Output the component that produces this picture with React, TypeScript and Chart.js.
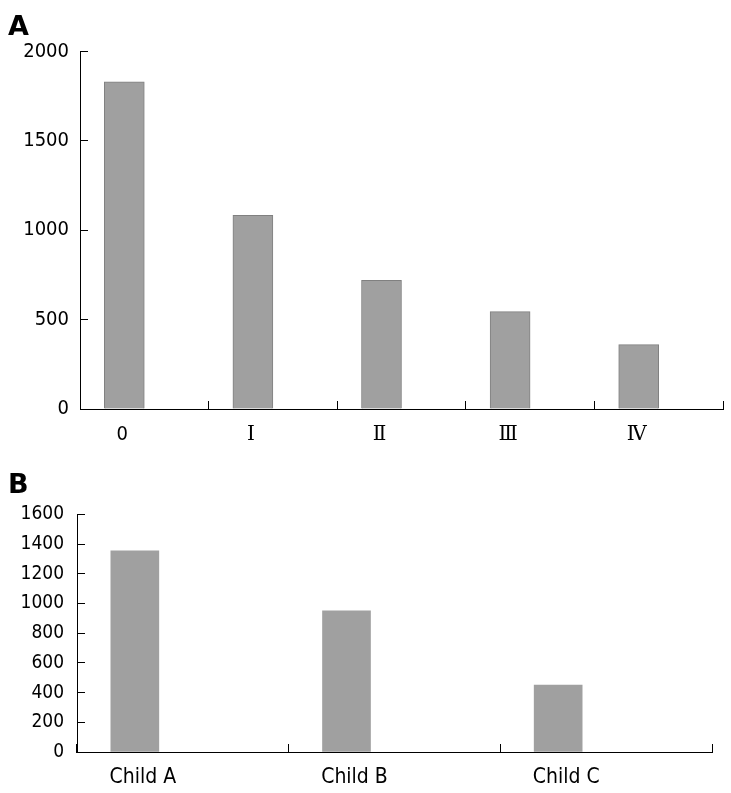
import React, { useEffect, useRef } from "react";
import { Chart, registerables } from "chart.js";

Chart.register(...registerables);

// Panel A
const stagesA = ["0", "Ⅰ", "Ⅱ", "Ⅲ", "Ⅳ"];
const valuesA = [1830, 1083, 719, 545, 360];
const yTicksA = { min: 0, max: 2000, step: 500 };

// Panel B
const childrenB = ["Child A", "Child B", "Child C"];
const valuesB = [1355, 950, 450];
const yTicksB = { min: 0, max: 1600, step: 200 };

const SANS = "'DejaVu Sans Condensed', 'DejaVu Sans', sans-serif";
const SERIF = "'DejaVu Serif', 'Liberation Serif', serif";
const BAR = "#a0a0a0";

function makeConfig(opts: any) {
  const {
    letter, labels, values, yt, barThickness, emptySeries, yWidth, xHeight,
    rightPad, titlePadTop, titlePadBottom, yFont, xFont, yPad, xPad, labelOffset, borderColor, borderWidth,
  } = opts;
  const datasets: any[] = [
    { data: values, backgroundColor: BAR, borderColor, borderWidth, barThickness },
  ];
  for (let i = 0; i < emptySeries; i++) {
    datasets.push({ data: [], backgroundColor: BAR, barThickness });
  }
  return {
    type: "bar",
    data: { labels, datasets },
    options: {
      animation: false,
      responsive: false,
      maintainAspectRatio: false,
      layout: { padding: { left: 8, right: rightPad, top: 0, bottom: 0 } },
      plugins: {
        legend: { display: false },
        tooltip: { enabled: false },
        title: {
          display: true,
          text: letter,
          align: "start",
          color: "#000",
          font: { family: "'DejaVu Sans', sans-serif", size: 27, weight: "bold" },
          padding: { top: titlePadTop, bottom: titlePadBottom },
        },
      },
      scales: {
        x: {
          type: "category",
          offset: true,
          grid: {
            offset: true,
            drawOnChartArea: false,
            drawTicks: true,
            tickLength: -8,
            color: "#000",
          },
          border: { display: true, color: "#000", width: 1 },
          ticks: {
            color: "#000",
            font: xFont,
            padding: xPad,
            labelOffset,
            maxRotation: 0,
            autoSkip: false,
          },
          afterFit: (s: any) => { s.height = xHeight; },
        },
        y: {
          min: yt.min,
          max: yt.max,
          grid: {
            drawOnChartArea: false,
            drawTicks: true,
            tickLength: -8,
            color: "#000",
          },
          border: { display: true, color: "#000", width: 1 },
          ticks: {
            stepSize: yt.step,
            color: "#000",
            font: yFont,
            padding: yPad,
            callback: (v: any) => String(v),
          },
          afterFit: (s: any) => { s.width = yWidth; },
        },
      },
    },
  };
}

function Panel({ top, height, config }: any) {
  const ref = useRef<HTMLCanvasElement>(null);
  useEffect(() => {
    const chart = new Chart(ref.current as HTMLCanvasElement, config);
    return () => chart.destroy();
  }, []);
  return (
    <canvas
      ref={ref}
      width={731}
      height={height}
      style={{ position: "absolute", left: 0, top, width: 731, height }}
    />
  );
}

export default function App() {
  useEffect(() => {
    document.body.style.margin = "0";
  }, []);

  const configA = makeConfig({
    letter: "A",
    labels: stagesA,
    values: valuesA,
    yt: yTicksA,
    barThickness: 40,
    emptySeries: 1,
    yWidth: 72,
    xHeight: 46,
    rightPad: 8,
    titlePadTop: 12,
    titlePadBottom: 7,
    yFont: { family: SANS, size: 20 },
    xFont: (ctx: any) =>
      ctx.index === 0 ? { family: SANS, size: 20 } : { family: SERIF, size: 20 },
    yPad: 19,
    xPad: 22,
    labelOffset: -22,
    borderColor: "#808080",
    borderWidth: 1,
  });

  const configB = makeConfig({
    letter: "B",
    labels: childrenB,
    values: valuesB,
    yt: yTicksB,
    barThickness: 48,
    emptySeries: 2,
    yWidth: 69,
    xHeight: 41,
    rightPad: 19,
    titlePadTop: 15,
    titlePadBottom: 12,
    yFont: { family: SANS, size: 19 },
    xFont: { family: SANS, size: 21 },
    yPad: 21,
    xPad: 21,
    labelOffset: -40,
    borderColor: BAR,
    borderWidth: 0,
  });

  return (
    <div style={{ position: "relative", width: 731, height: 793, background: "#fff" }}>
      <Panel top={0} height={455} config={configA} />
      <Panel top={455} height={338} config={configB} />
    </div>
  );
}
